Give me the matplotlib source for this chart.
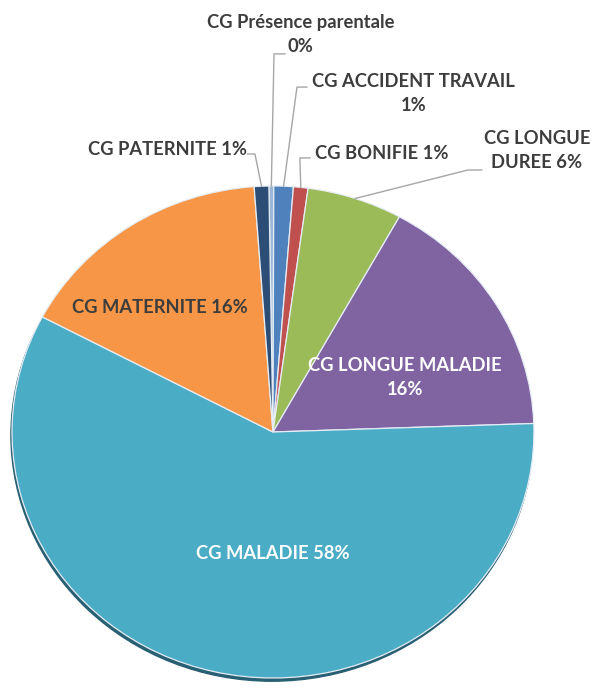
import numpy as np
import matplotlib.pyplot as plt
from matplotlib.patches import Circle

# congés par type, en % du total
categories = ["CG Présence parentale", "CG ACCIDENT TRAVAIL", "CG BONIFIE",
              "CG LONGUE\nDUREE", "CG LONGUE MALADIE", "CG MALADIE",
              "CG MATERNITE", "CG PATERNITE"]
shares = [0.3, 1.2, 0.9, 5.9, 16.4, 58.3, 16.1, 0.9]
colors = ["#9db7d9", "#4f81bd", "#c0504d", "#9bbb59", "#8064a2",
          "#4bacc6", "#f79646", "#2c4d75"]
separators = ["\n", "\n", " ", " ", "\n", " ", " ", " "]

# placement des étiquettes : (x, y, ha, couleur, coude du trait ou None)
label_pos = [
    (0.107, 1.614, "center", "#3d3d3d", (0.004, 1.537, 0.046)),
    (0.540, 1.374, "center", "#3d3d3d", (0.092, 1.402, 0.130)),
    (0.160, 1.134, "left", "#3d3d3d", (0.103, 1.114, 0.142)),
    (1.011, 1.146, "center", "#3d3d3d", (0.747, 1.065, 0.800)),
    (0.506, 0.220, "center", "white", None),
    (0.000, -0.492, "center", "white", None),
    (-0.433, 0.508, "center", "#3d3d3d", None),
    (-0.100, 1.150, "right", "#3d3d3d", (-0.069, 1.130, -0.097)),
]

fig = plt.figure(figsize=(5.95, 6.94), dpi=100)
ax = fig.add_axes([0, 0, 1, 1])

# bord sombre sous le camembert
ax.add_patch(Circle((-0.004, -0.013), 1.0, color="#285f72", zorder=0))

wedges, _ = ax.pie(shares, colors=colors, startangle=90.9, counterclock=False,
                   wedgeprops=dict(edgecolor="#e6edf5", linewidth=0.9))

ax.set_aspect("auto")
ax.set_xlim(-1.046, 1.234)
ax.set_ylim(-1.065, 1.756)
ax.axis("off")

font = dict(family="Lato", weight="bold", fontsize=13.2)

for w, name, sep, v, (x, y, ha, col, elbow) in zip(
        wedges, categories, separators, shares, label_pos):
    text = f"{name}{sep}{round(v)}%"
    ax.text(x, y, text, ha=ha, va="center", color=col,
            linespacing=1.5, **font)
    if elbow is not None:
        mid = np.deg2rad((w.theta1 + w.theta2) / 2)
        ex, ey, tx = elbow
        ax.plot([tx, ex, np.cos(mid)], [ey, ey, np.sin(mid)],
                color="#a6a6a6", lw=1.0, zorder=3)

fig.savefig("out.png", dpi=100)
